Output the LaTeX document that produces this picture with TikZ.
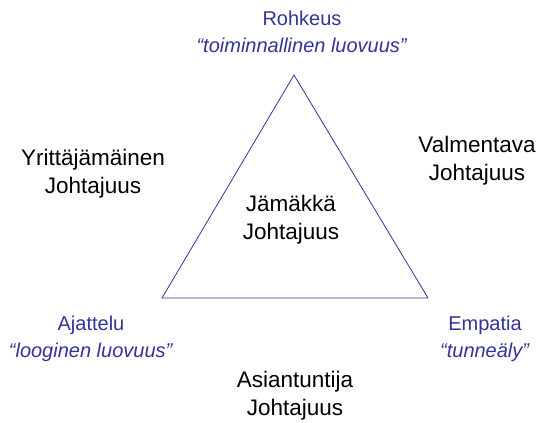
\documentclass[tikz,border=0pt]{standalone}
\usepackage{fontspec}
\setmainfont{Liberation Sans}
\usepackage{tikz}
\definecolor{tiblue}{RGB}{51,51,153}
\usetikzlibrary{positioning}

\begin{document}
\begin{tikzpicture}[x=1pt,y=-1pt,
    lead/.style={align=center,inner sep=0pt,font=\fontsize{22.5}{28}\selectfont},
    trait/.style={align=center,inner sep=0pt,text=tiblue,font=\fontsize{20}{27}\selectfont}]
                \useasboundingbox (0,0) rectangle (542,423);
                % corners of the triangle
                \coordinate (top) at (294,75);
                \coordinate (left) at (162,298);
                \coordinate (right) at (428,298);
                \draw[tiblue,line width=0.8pt] (top) -- (left) -- (right) -- cycle;

                \node[trait] (rohkeus) at (302,32) {Rohkeus\\\textit{“toiminnallinen luovuus”}};
                \node[trait] (ajattelu) at (91,339) {Ajattelu\\\textit{“looginen luovuus”}};
                \node[trait] (empatia) at (485,339) {Empatia\\\textit{“tunneäly”}};

                \node[lead] (yrittaja) at (93,174) {Yrittäjämäinen\\Johtajuus};
                \node[lead] (valmentava) at (477,161) {Valmentava\\Johtajuus};
                \node[lead] (jamakka) at (291,220) {Jämäkkä\\Johtajuus};
                \node[lead] (asiantuntija) at (295,396) {Asiantuntija\\Johtajuus};
                \end{tikzpicture}
\end{document}
